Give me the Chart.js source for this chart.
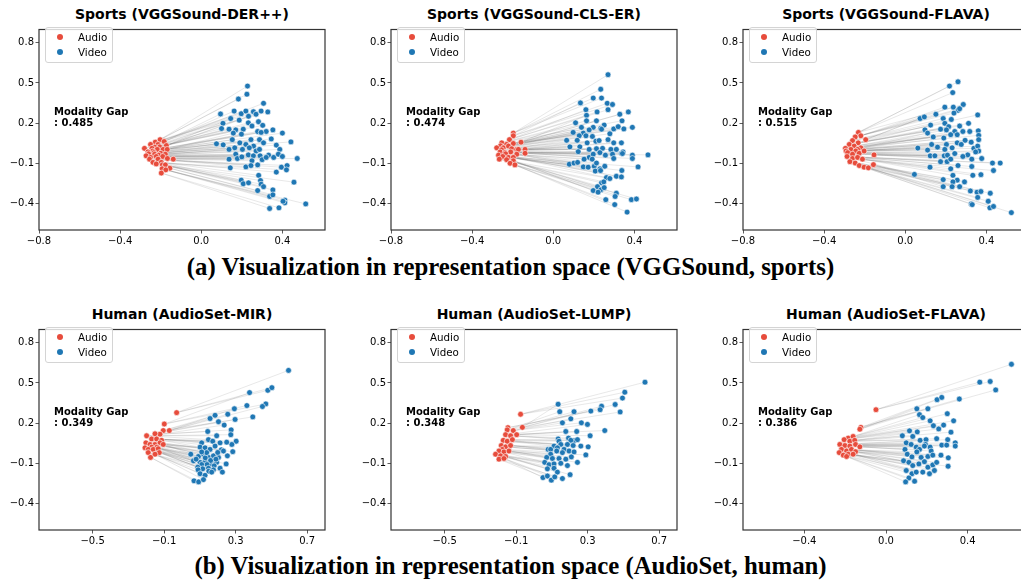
<!DOCTYPE html>
<html lang="en">
<head>
<meta charset="utf-8" />
<title>Modality gap in representation space</title>
<script src="https://cdn.jsdelivr.net/npm/chart.js@4.4.0/dist/chart.umd.min.js"></script>
<style>
    body { margin: 0; background: #fff; width: 1021px; height: 583px; overflow: hidden; position: relative; font-family: "DejaVu Sans", sans-serif; }
    .wrap { position: absolute; }
    .title { position: absolute; width: 286px; text-align: center; font-weight: bold; font-size: 14px; line-height: 14px; white-space: nowrap; }
    .gap { position: absolute; font-weight: bold; font-size: 10px; line-height: 11px; white-space: nowrap; }
    .legend { position: absolute; width: 66px; height: 34px; border: 1px solid #d4d4d4; border-radius: 3px; background: rgba(255,255,255,0.8); font-size: 10.3px; }
    .legend .dot { position: absolute; width: 6px; height: 6px; border-radius: 50%; left: 11px; }
    .legend .lab { position: absolute; left: 32px; line-height: 12px; }
    .caption { position: absolute; left: 0; width: 1021px; text-align: center; font-family: "Liberation Serif", "Times New Roman", serif; font-weight: bold; font-size: 24.8px; line-height: 24.8px; white-space: nowrap; }
</style>
</head>
<body>
<div class="caption" style="top:255px">(a) Visualization in representation space (VGGSound, sports)</div>
<div class="caption" style="top:554px">(b) Visualization in representation space (AudioSet, human)</div>
<script>
    // tick values
    const yTicks = [-0.4, -0.1, 0.2, 0.5, 0.8];
    const xTicksSports = [-0.8, -0.4, 0.0, 0.4];
    const xTicksHuman = [-0.5, -0.1, 0.3, 0.7];
    const xTicksHumanFlava = [-0.4, 0.0, 0.4];

    const titles = ['Sports (VGGSound-DER++)', 'Sports (VGGSound-CLS-ER)', 'Sports (VGGSound-FLAVA)',
                    'Human (AudioSet-MIR)', 'Human (AudioSet-LUMP)', 'Human (AudioSet-FLAVA)'];
    const gaps = ['0.485', '0.474', '0.515', '0.349', '0.348', '0.386'];

    // [x, y] points
    const derVideo = [[0.228,0.477],[0.225,0.416],[0.183,0.380],[0.307,0.348],[0.095,0.268],[0.162,0.290],[0.197,0.270],[0.22,0.290],[0.257,0.285],[0.295,0.290],[0.328,0.283],[0.233,0.251],[0.27,0.266],[0.145,0.234],[0.187,0.222],[0.107,0.198],[0.232,0.202],[0.282,0.210],[0.303,0.183],[0.1,0.159],[0.137,0.154],[0.17,0.149],[0.207,0.154],[0.25,0.178],[0.278,0.137],[0.32,0.137],[0.353,0.149],[0.4,0.125],[0.158,0.125],[0.198,0.117],[0.295,0.130],[0.245,0.076],[0.287,0.076],[0.345,0.081],[0.442,0.059],[0.075,0.045],[0.108,0.037],[0.153,0.076],[0.19,0.052],[0.22,0.040],[0.258,0.028],[0.307,0.052],[0.37,0.035],[0.137,0.003],[0.165,0.015],[0.203,0.003],[0.237,0.015],[0.27,-0.009],[0.287,0.003],[0.387,0.003],[0.17,-0.033],[0.232,-0.038],[0.257,-0.045],[0.29,-0.045],[0.332,-0.040],[0.357,-0.057],[0.38,-0.033],[0.473,-0.065],[0.137,-0.070],[0.178,-0.065],[0.2,-0.053],[0.25,-0.082],[0.3,-0.074],[0.32,-0.057],[0.4,-0.050],[0.143,-0.135],[0.22,-0.128],[0.245,-0.118],[0.278,-0.113],[0.395,-0.130],[0.423,-0.118],[0.37,-0.167],[0.42,-0.150],[0.283,-0.191],[0.197,-0.227],[0.207,-0.254],[0.233,-0.247],[0.292,-0.230],[0.295,-0.257],[0.307,-0.276],[0.457,-0.242],[0.278,-0.305],[0.353,-0.300],[0.337,-0.349],[0.353,-0.337],[0.412,-0.376],[0.412,-0.397],[0.515,-0.405],[0.337,-0.439],[0.383,-0.434],[0.403,-0.385]];
    const derAudio = [[-0.203,0.076],[-0.227,0.057],[-0.183,0.062],[-0.25,0.040],[-0.213,0.040],[-0.172,0.032],[-0.205,0.022],[-0.23,0.02],[-0.28,0.011],[-0.243,0.011],[-0.217,0.003],[-0.188,0.003],[-0.168,0.003],[-0.24,-0.01],[-0.263,-0.016],[-0.233,-0.021],[-0.2,-0.026],[-0.26,-0.03],[-0.177,-0.033],[-0.23,-0.033],[-0.21,-0.04],[-0.272,-0.045],[-0.25,-0.057],[-0.222,-0.050],[-0.19,-0.050],[-0.167,-0.065],[-0.138,-0.070],[-0.255,-0.070],[-0.213,-0.070],[-0.238,-0.094],[-0.197,-0.094],[-0.222,-0.106],[-0.192,-0.113],[-0.177,-0.113],[-0.155,-0.138],[-0.193,-0.142],[-0.175,-0.150],[-0.197,-0.174]];

    const clsVideo = [[0.270,0.562],[0.234,0.453],[0.197,0.387],[0.238,0.387],[0.134,0.351],[0.266,0.348],[0.292,0.339],[0.161,0.300],[0.270,0.300],[0.216,0.283],[0.328,0.266],[0.370,0.283],[0.164,0.258],[0.110,0.202],[0.164,0.217],[0.213,0.217],[0.251,0.185],[0.339,0.217],[0.139,0.168],[0.197,0.168],[0.234,0.161],[0.098,0.130],[0.148,0.125],[0.177,0.149],[0.298,0.156],[0.320,0.173],[0.348,0.156],[0.390,0.168],[0.128,0.105],[0.161,0.105],[0.193,0.100],[0.238,0.154],[0.279,0.120],[0.066,0.071],[0.118,0.071],[0.167,0.052],[0.210,0.064],[0.226,0.069],[0.270,0.076],[0.298,0.052],[0.336,0.052],[0.082,0.022],[0.131,0.022],[0.177,0.003],[0.213,0.008],[0.243,0.011],[0.284,0.003],[0.311,0.003],[0.336,-0.026],[0.344,-0.016],[0.390,-0.040],[0.467,-0.038],[0.123,-0.014],[0.177,-0.057],[0.197,-0.033],[0.230,-0.021],[0.257,-0.040],[0.292,-0.033],[0.298,-0.065],[0.341,-0.028],[0.390,-0.065],[0.079,-0.108],[0.102,-0.099],[0.120,-0.094],[0.148,-0.128],[0.172,-0.130],[0.202,-0.123],[0.230,-0.142],[0.254,-0.123],[0.152,-0.070],[0.192,-0.070],[0.213,-0.099],[0.418,-0.128],[0.338,-0.155],[0.207,-0.159],[0.233,-0.155],[0.262,-0.208],[0.311,-0.198],[0.336,-0.203],[0.238,-0.247],[0.249,-0.240],[0.279,-0.215],[0.218,-0.276],[0.234,-0.300],[0.197,-0.305],[0.221,-0.317],[0.251,-0.283],[0.311,-0.325],[0.305,-0.349],[0.259,-0.373],[0.385,-0.373],[0.410,-0.368],[0.303,-0.410],[0.364,-0.466]];
    const clsAudio = [[-0.197,0.125],[-0.197,0.105],[-0.216,0.076],[-0.159,0.057],[-0.254,0.052],[-0.230,0.040],[-0.197,0.047],[-0.26,0.03],[-0.279,0.015],[-0.246,0.015],[-0.221,0.028],[-0.205,0.008],[-0.180,0.003],[-0.139,0.003],[-0.172,0.003],[-0.255,0.0],[-0.262,-0.016],[-0.238,-0.021],[-0.210,-0.016],[-0.235,-0.03],[-0.180,-0.033],[-0.139,-0.026],[-0.270,-0.040],[-0.249,-0.050],[-0.221,-0.057],[-0.197,-0.057],[-0.266,-0.070],[-0.230,-0.074],[-0.197,-0.082],[-0.213,-0.101],[-0.189,-0.113]];

    const flavaSVideo = [[0.218,0.477],[0.260,0.509],[0.234,0.428],[0.195,0.319],[0.237,0.319],[0.286,0.339],[0.260,0.295],[0.240,0.275],[0.268,0.307],[0.357,0.261],[0.151,0.266],[0.073,0.234],[0.094,0.246],[0.187,0.234],[0.227,0.227],[0.125,0.185],[0.195,0.198],[0.214,0.173],[0.268,0.178],[0.312,0.198],[0.097,0.149],[0.110,0.125],[0.174,0.154],[0.203,0.149],[0.244,0.137],[0.284,0.137],[0.318,0.137],[0.360,0.142],[0.138,0.096],[0.190,0.088],[0.224,0.113],[0.256,0.113],[0.295,0.071],[0.325,0.057],[0.362,0.108],[0.362,0.076],[0.062,0.013],[0.130,0.040],[0.159,0.020],[0.203,0.040],[0.195,0.003],[0.231,0.015],[0.256,0.052],[0.276,0.040],[0.338,0.011],[0.357,0.028],[0.362,-0.009],[0.110,-0.002],[0.123,-0.045],[0.146,-0.045],[0.192,-0.045],[0.208,-0.040],[0.244,-0.028],[0.308,-0.038],[0.347,-0.016],[0.377,-0.065],[0.284,-0.050],[0.206,-0.089],[0.174,-0.089],[0.224,-0.070],[0.328,-0.070],[0.430,-0.099],[0.468,-0.099],[0.122,-0.130],[0.224,-0.142],[0.260,-0.118],[0.328,-0.125],[0.235,-0.191],[0.373,-0.186],[0.435,-0.155],[0.045,-0.184],[0.187,-0.223],[0.256,-0.227],[0.292,-0.240],[0.268,-0.276],[0.235,-0.240],[0.321,-0.308],[0.354,-0.317],[0.373,-0.312],[0.419,-0.325],[0.357,-0.356],[0.409,-0.385],[0.325,-0.405],[0.330,-0.410],[0.417,-0.434],[0.435,-0.424],[0.523,-0.470],[0.231,-0.276],[0.187,-0.276],[0.333,-0.191]];
    const flavaSAudio = [[-0.231,0.130],[-0.219,0.105],[-0.247,0.096],[-0.195,0.076],[-0.260,0.069],[-0.232,0.052],[-0.276,0.040],[-0.252,0.028],[-0.219,0.015],[-0.295,0.011],[-0.268,0.003],[-0.235,0.003],[-0.244,-0.009],[-0.292,-0.009],[-0.284,-0.021],[-0.260,-0.033],[-0.227,-0.026],[-0.203,-0.009],[-0.154,-0.038],[-0.287,-0.050],[-0.260,-0.065],[-0.235,-0.057],[-0.211,-0.070],[-0.273,-0.089],[-0.247,-0.099],[-0.227,-0.118],[-0.203,-0.130],[-0.182,-0.135],[-0.157,-0.111]];

    const mirVideo = [[0.596,0.594],[0.378,0.428],[0.480,0.445],[0.503,0.465],[0.363,0.331],[0.469,0.343],[0.450,0.324],[0.396,0.246],[0.293,0.307],[0.256,0.266],[0.185,0.258],[0.157,0.234],[0.297,0.227],[0.204,0.210],[0.236,0.185],[0.275,0.149],[0.273,0.113],[0.144,0.137],[0.194,0.105],[0.303,0.064],[0.279,0.040],[0.110,0.052],[0.148,0.076],[0.172,0.064],[0.101,0.020],[0.129,0.015],[0.157,0.003],[0.185,0.028],[0.213,0.052],[0.250,0.057],[0.22,0.0],[0.284,-0.014],[0.254,-0.045],[0.049,-0.033],[0.092,-0.050],[0.120,-0.033],[0.148,-0.057],[0.176,-0.045],[0.204,-0.057],[0.2,-0.02],[0.064,-0.082],[0.101,-0.094],[0.129,-0.089],[0.166,-0.106],[0.194,-0.094],[0.247,-0.106],[0.16,-0.08],[0.13,-0.06],[0.19,-0.07],[0.14,-0.11],[0.18,-0.12],[0.11,-0.11],[0.088,-0.130],[0.116,-0.142],[0.148,-0.138],[0.176,-0.150],[0.213,-0.138],[0.09,-0.15],[0.15,-0.16],[0.226,-0.167],[0.101,-0.179],[0.129,-0.191],[0.166,-0.167],[0.067,-0.232],[0.093,-0.240],[0.120,-0.223],[0.138,-0.021],[0.079,-0.070],[0.232,-0.009],[0.110,-0.016]];
    const mirAudio = [[-0.030,0.278],[-0.099,0.193],[-0.071,0.144],[-0.105,0.144],[-0.123,0.117],[-0.151,0.120],[-0.198,0.105],[-0.170,0.081],[-0.142,0.081],[-0.114,0.071],[-0.202,0.052],[-0.179,0.040],[-0.151,0.040],[-0.123,0.052],[-0.105,0.040],[-0.17,0.02],[-0.14,0.02],[-0.207,0.015],[-0.189,0.003],[-0.161,0.003],[-0.133,0.008],[-0.189,-0.021],[-0.127,-0.021],[-0.151,-0.033],[-0.176,-0.057]];

    const lumpVideo = [[0.621,0.506],[0.508,0.431],[0.495,0.387],[0.454,0.339],[0.482,0.283],[0.378,0.326],[0.370,0.300],[0.318,0.290],[0.224,0.285],[0.135,0.341],[0.144,0.285],[0.206,0.232],[0.159,0.202],[0.265,0.202],[0.299,0.190],[0.178,0.137],[0.239,0.137],[0.314,0.105],[0.396,0.144],[0.135,0.081],[0.193,0.088],[0.224,0.069],[0.243,0.076],[0.206,0.071],[0.140,0.064],[0.079,0.003],[0.112,0.028],[0.150,0.040],[0.187,0.040],[0.219,0.032],[0.262,0.028],[0.303,0.022],[0.131,0.015],[0.093,0.003],[0.168,0.003],[0.093,-0.033],[0.127,-0.009],[0.159,-0.021],[0.196,-0.009],[0.224,-0.016],[0.071,-0.057],[0.103,-0.065],[0.140,-0.065],[0.178,-0.070],[0.209,-0.053],[0.243,-0.094],[0.290,-0.038],[0.060,-0.094],[0.084,-0.111],[0.112,-0.106],[0.150,-0.101],[0.187,-0.118],[0.075,-0.142],[0.112,-0.138],[0.131,-0.167],[0.159,-0.215],[0.202,-0.186],[0.050,-0.208],[0.075,-0.196],[0.097,-0.227],[0.116,-0.203]];
    const lumpAudio = [[-0.075,0.266],[-0.065,0.168],[-0.146,0.166],[-0.150,0.149],[-0.116,0.144],[-0.159,0.113],[-0.131,0.105],[-0.097,0.113],[-0.172,0.071],[-0.150,0.064],[-0.121,0.076],[-0.183,0.032],[-0.159,0.022],[-0.131,0.032],[-0.178,0.003],[-0.196,-0.009],[-0.168,-0.016],[-0.140,-0.009],[-0.215,-0.033],[-0.187,-0.045],[-0.159,-0.050],[-0.196,-0.070],[-0.168,-0.065]];

    const flavaHVideo = [[0.614,0.640],[0.459,0.506],[0.510,0.511],[0.537,0.448],[0.250,0.375],[0.273,0.392],[0.359,0.380],[0.151,0.307],[0.205,0.307],[0.164,0.263],[0.180,0.241],[0.300,0.270],[0.216,0.217],[0.331,0.217],[0.232,0.180],[0.258,0.156],[0.282,0.185],[0.318,0.132],[0.080,0.105],[0.115,0.142],[0.153,0.134],[0.131,0.100],[0.167,0.071],[0.196,0.076],[0.248,0.083],[0.302,0.076],[0.339,0.052],[0.099,0.052],[0.123,0.040],[0.148,0.020],[0.164,0.003],[0.193,0.040],[0.216,0.020],[0.273,0.035],[0.297,0.035],[0.339,0.028],[0.188,0.028],[0.221,-0.009],[0.093,0.003],[0.104,-0.033],[0.127,-0.053],[0.151,-0.016],[0.172,-0.057],[0.205,-0.050],[0.229,-0.040],[0.269,-0.040],[0.305,-0.060],[0.086,-0.082],[0.112,-0.094],[0.131,-0.118],[0.161,-0.106],[0.188,-0.089],[0.205,-0.130],[0.229,-0.113],[0.248,-0.094],[0.304,-0.123],[0.099,-0.155],[0.127,-0.179],[0.148,-0.167],[0.180,-0.167],[0.213,-0.179],[0.237,-0.155],[0.112,-0.211],[0.140,-0.235],[0.096,-0.240]];
    const flavaHAudio = [[-0.049,0.300],[-0.123,0.168],[-0.128,0.154],[-0.185,0.088],[-0.161,0.100],[-0.205,0.076],[-0.177,0.064],[-0.153,0.071],[-0.226,0.040],[-0.201,0.032],[-0.177,0.028],[-0.149,0.040],[-0.128,0.022],[-0.218,0.003],[-0.193,-0.009],[-0.169,0.003],[-0.149,-0.014],[-0.229,-0.021],[-0.209,-0.040],[-0.185,-0.033],[-0.161,-0.033],[-0.193,-0.050]];

    const RED = '#e74c3c';
    const BLUE = '#1f77b4';

    Chart.defaults.font.family = '"DejaVu Sans", sans-serif';

    const frame = {
        id: 'frame',
        afterDraw(chart) {
            const a = chart.chartArea;
            const ctx = chart.ctx;
            ctx.save();
            ctx.strokeStyle = '#333';
            ctx.lineWidth = 1.2;
            ctx.strokeRect(a.left, a.top, a.right - a.left, a.bottom - a.top);
            ctx.restore();
        }
    };

    function fmt(v) {
        return (v < -1e-9 ? '\u2212' : '') + Math.abs(v).toFixed(1);
    }

    function panel(idx, left, top, video, audio, xMin, xMax, xTicks) {
        // box = plot area; wrapper holds the axes around it
        const W = 327, H = 232;
        const wrap = document.createElement('div');
        wrap.className = 'wrap';
        wrap.style.left = (left - 40) + 'px';
        wrap.style.top = (top - 1) + 'px';
        wrap.style.width = W + 'px';
        wrap.style.height = H + 'px';
        const canvas = document.createElement('canvas');
        canvas.width = W;
        canvas.height = H;
        wrap.appendChild(canvas);
        document.body.appendChild(wrap);

        const t = document.createElement('div');
        t.className = 'title';
        t.style.left = left + 'px';
        t.style.top = (top - 16) + 'px';
        t.textContent = titles[idx];
        document.body.appendChild(t);

        const g = document.createElement('div');
        g.className = 'gap';
        g.style.left = (left + 15) + 'px';
        g.style.top = (top + 83) + 'px';
        g.innerHTML = 'Modality Gap<br>: ' + gaps[idx];
        document.body.appendChild(g);

        const lg = document.createElement('div');
        lg.className = 'legend';
        lg.style.left = (left + 6) + 'px';
        lg.style.top = (top + 4) + 'px';
        lg.innerHTML = '<div class="dot" style="top:6px;background:' + RED + '"></div><div class="lab" style="top:3px">Audio</div>' +
                       '<div class="dot" style="top:21px;background:' + BLUE + '"></div><div class="lab" style="top:18px">Video</div>';
        document.body.appendChild(lg);

        const vs = video.slice().sort((a, b) => b[1] - a[1]);
        const as = audio.slice().sort((a, b) => b[1] - a[1]);
        const datasets = [
            { data: video.map(p => ({ x: p[0], y: p[1] })), backgroundColor: BLUE, borderColor: '#fff', borderWidth: 0.6, pointRadius: 2.9 },
            { data: audio.map(p => ({ x: p[0], y: p[1] })), backgroundColor: RED, borderColor: '#fff', borderWidth: 0.6, pointRadius: 2.9 },
        ];
        vs.forEach((v, i) => {
            const a = as[Math.floor(i * as.length / vs.length)];
            datasets.push({
                data: [{ x: a[0], y: a[1] }, { x: v[0], y: v[1] }],
                showLine: true, pointRadius: 0, borderWidth: 0.8,
                borderColor: 'rgba(110,110,110,0.2)'
            });
        });

        new Chart(canvas.getContext('2d'), {
            type: 'scatter',
            data: { datasets: datasets },
            options: {
                responsive: false,
                animation: false,
                devicePixelRatio: 1,
                layout: { padding: { top: 1, right: 1, left: 0, bottom: 0 }, autoPadding: false },
                plugins: { legend: { display: false }, tooltip: { enabled: false } },
                scales: {
                    x: {
                        type: 'linear', min: xMin, max: xMax,
                        afterBuildTicks: ax => { ax.ticks = xTicks.map(v => ({ value: v })); },
                        afterFit: ax => { ax.height = 24; },
                        grid: { drawOnChartArea: false, drawTicks: true, tickLength: 3.5, color: '#333', lineWidth: 0.8 },
                        border: { display: false },
                        ticks: { callback: v => fmt(v), color: '#000', font: { size: 10 }, padding: 1.5, maxRotation: 0 }
                    },
                    y: {
                        type: 'linear', min: -0.6, max: 0.9,
                        afterBuildTicks: ax => { ax.ticks = yTicks.map(v => ({ value: v })); },
                        afterFit: ax => { ax.width = 40; },
                        grid: { drawOnChartArea: false, drawTicks: true, tickLength: 3.5, color: '#333', lineWidth: 0.8 },
                        border: { display: false },
                        ticks: { callback: v => fmt(v), color: '#000', font: { size: 10 }, padding: 1.5 }
                    }
                }
            },
            plugins: [frame]
        });
    }

    panel(0, 39, 23, derVideo, derAudio, -0.8, 0.61, xTicksSports);
    panel(1, 391, 23, clsVideo, clsAudio, -0.8, 0.61, xTicksSports);
    panel(2, 743, 23, flavaSVideo, flavaSAudio, -0.8, 0.61, xTicksSports);
    panel(3, 39, 323, mirVideo, mirAudio, -0.8, 0.8, xTicksHuman);
    panel(4, 391, 323, lumpVideo, lumpAudio, -0.8, 0.8, xTicksHuman);
    panel(5, 743, 323, flavaHVideo, flavaHAudio, -0.7, 0.7, xTicksHumanFlava);
</script>
</body>
</html>
